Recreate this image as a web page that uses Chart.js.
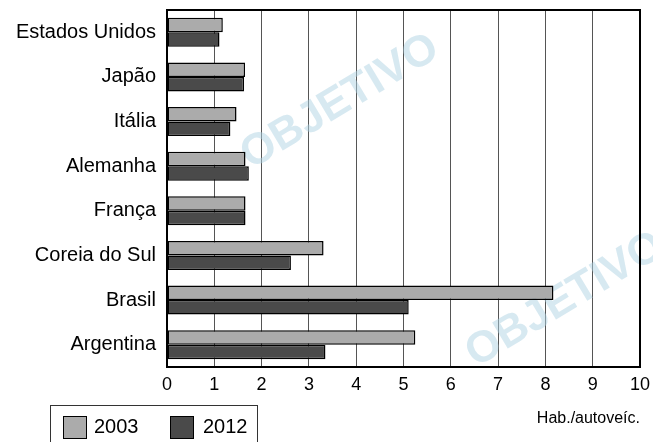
<!DOCTYPE html>
<html>
<head>
<meta charset="utf-8">
<script src="https://cdn.jsdelivr.net/npm/chart.js@4"></script>
<style>
  body { margin: 0; background: #fff; font-family: "Liberation Sans", Arial, sans-serif; }
  #wrap { position: relative; width: 653px; height: 442px; overflow: hidden; }
  #legend { position: absolute; left: 50px; top: 405px; width: 208px; height: 45px;
            border: 1px solid #333; box-sizing: border-box; font-size: 20px; color: #000; }
  .sw { position: absolute; top: 10px; width: 22px; height: 21px; border: 1px solid #000; }
  .lt { position: absolute; top: 9px; line-height: 22px; }
</style>
</head>
<body>
<div id="wrap">
  <canvas id="myChart" width="653" height="442"></canvas>
  <div id="legend">
    <div class="sw" style="left:12px;background:#ababab"></div><div class="lt" style="left:43px">2003</div>
    <div class="sw" style="left:119px;background:#4a4a4a"></div><div class="lt" style="left:152px">2012</div>
  </div>
</div>
<script>
var countries = ["Estados Unidos", "Japão", "Itália", "Alemanha", "França", "Coreia do Sul", "Brasil", "Argentina"];
var values2003 = [1.18, 1.65, 1.47, 1.66, 1.66, 3.31, 8.17, 5.25];
var values2012 = [1.11, 1.63, 1.34, 1.73, 1.66, 2.62, 5.11, 3.35];
var xTicks = [0, 1, 2, 3, 4, 5, 6, 7, 8, 9, 10];

// marca d'agua e moldura
var extras = {
  id: "extras",
  beforeDatasetsDraw: function(chart) {
    var c = chart.ctx;
    c.save();
    c.fillStyle = "rgba(175,212,228,0.5)";
    c.font = "bold 44px 'Liberation Sans', Arial";
    c.textAlign = "center";
    c.textBaseline = "middle";
    [[340, 102], [565, 300]].forEach(function(p) {
      c.save();
      c.translate(p[0], p[1]);
      c.rotate(-31 * Math.PI / 180);
      c.fillText("OBJETIVO", 0, 0);
      c.restore();
    });
    c.restore();
  },
  afterDraw: function(chart) {
    var a = chart.chartArea, c = chart.ctx;
    c.save();
    c.strokeStyle = "#000";
    c.lineWidth = 2;
    c.strokeRect(a.left, a.top, a.right - a.left, a.bottom - a.top);
    c.restore();
  }
};

new Chart("myChart", {
  type: "bar",
  data: {
    labels: countries,
    datasets: [{
      label: "2003",
      data: values2003,
      backgroundColor: "#ababab",
      borderColor: "#000",
      borderWidth: 1.5,
      borderSkipped: false
    }, {
      label: "2012",
      data: values2012,
      backgroundColor: "#4a4a4a",
      borderColor: "#000",
      borderWidth: 1.5,
      borderSkipped: false
    }]
  },
  options: {
    indexAxis: "y",
    responsive: false,
    animation: false,
    datasets: { bar: { categoryPercentage: 0.65, barPercentage: 1.0 } },
    layout: { padding: { top: 10, right: 13, left: 0, bottom: 0 } },
    plugins: {
      legend: { display: false },
      tooltip: { enabled: false }
    },
    scales: {
      x: {
        min: 0, max: 10,
        afterBuildTicks: function(s) { s.ticks = xTicks.map(function(v) { return { value: v }; }); },
        afterFit: function(s) { s.height = 75; s.paddingLeft = 0; s.paddingRight = 0; },
        grid: { color: "#555", lineWidth: 1, drawTicks: false },
        border: { color: "#000", width: 2 },
        ticks: { color: "#000", padding: 7, font: { family: "'Liberation Sans', Arial", size: 18 } },
        title: {
          display: true, text: "Hab./autoveíc.", align: "end", color: "#000",
          padding: { top: 0, bottom: 14 },
          font: { family: "'Liberation Sans', Arial", size: 16 }
        }
      },
      y: {
        afterFit: function(s) { s.width = 167; s.paddingTop = 0; s.paddingBottom = 0; },
        grid: { display: false, drawTicks: false },
        border: { color: "#000", width: 2 },
        ticks: { color: "#000", padding: 11, font: { family: "'Liberation Sans', Arial", size: 20 } }
      }
    }
  },
  plugins: [extras]
});
</script>
</body>
</html>
